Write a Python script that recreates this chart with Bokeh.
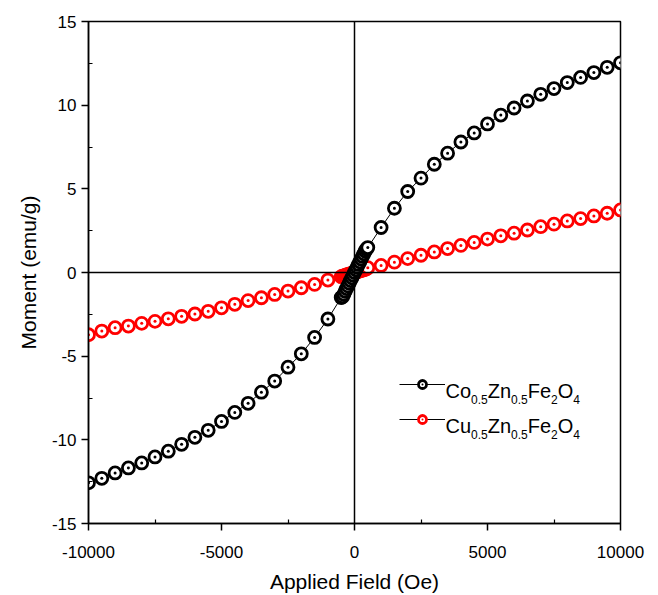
from bokeh.plotting import figure
from bokeh.models import (ColumnDataSource, FixedTicker, Span, Legend, LegendItem,
                          Label, Range1d)
from bokeh.core.properties import value
from bokeh.embed import file_html
from bokeh.resources import INLINE

# ---------------- data ----------------
field_outer = [-10000, -9500, -9000, -8500, -8000, -7500, -7000, -6500, -6000, -5500,
               -5000, -4500, -4000, -3500, -3000, -2500, -2000, -1500, -1000, -500,
               500, 1000, 1500, 2000, 2500, 3000, 3500, 4000, 4500, 5000,
               5500, 6000, 6500, 7000, 7500, 8000, 8500, 9000, 9500, 10000]
co_outer = [-12.57, -12.30, -11.98, -11.68, -11.38, -11.02, -10.68, -10.27, -9.85, -9.43,
            -8.90, -8.36, -7.82, -7.15, -6.49, -5.66, -4.86, -3.88, -2.78, -1.50,
            1.49, 2.69, 3.84, 4.84, 5.64, 6.47, 7.13, 7.80, 8.34, 8.88,
            9.41, 9.83, 10.25, 10.65, 10.99, 11.35, 11.66, 11.95, 12.26, 12.53]
cu_outer = [-3.72, -3.50, -3.30, -3.20, -3.04, -2.92, -2.77, -2.62, -2.48, -2.32,
            -2.11, -1.90, -1.68, -1.51, -1.31, -1.11, -0.91, -0.71, -0.45, -0.25,
            0.29, 0.42, 0.62, 0.83, 1.03, 1.23, 1.43, 1.62, 1.80, 2.00,
            2.19, 2.35, 2.54, 2.74, 2.89, 3.08, 3.22, 3.38, 3.54, 3.74]

field_inner = [-450, -400, -350, -300, -250, -200, -150, -100, -50, 0,
               50, 100, 150, 200, 250, 300, 350, 400, 450]
co_inner = [-1.45, -1.30, -1.12, -0.96, -0.80, -0.64, -0.48, -0.32, -0.16, 0.00,
            0.16, 0.32, 0.48, 0.64, 0.80, 0.96, 1.12, 1.28, 1.40]
cu_inner = [-0.22, -0.20, -0.17, -0.15, -0.12, -0.10, -0.07, -0.05, -0.02, 0.00,
            0.02, 0.05, 0.07, 0.10, 0.12, 0.15, 0.17, 0.20, 0.23]

x_major = [-10000, -5000, 0, 5000, 10000]
x_labels = ["-10000", "-5000", "0", "5000", "10000"]
x_minor = [-7500, -2500, 2500, 7500]
y_major = [-15, -10, -5, 0, 5, 10, 15]
y_labels = ["-15", "-10", "-5", "0", "5", "10", "15"]
y_minor = [-12.5, -7.5, -2.5, 2.5, 7.5, 12.5]

# legend formula pieces: (text, is_subscript)
co_label = [("Co", False), ("0.5", True), ("Zn", False), ("0.5", True),
            ("Fe", False), ("2", True), ("O", False), ("4", True)]
cu_label = [("Cu", False), ("0.5", True), ("Zn", False), ("0.5", True),
            ("Fe", False), ("2", True), ("O", False), ("4", True)]

# ---------------- build ----------------
def merged(xo, yo, xi, yi):
    pts = sorted(zip(list(xo) + list(xi), list(yo) + list(yi)))
    return [q[0] for q in pts], [q[1] for q in pts]

co_x, co_y = merged(field_outer, co_outer, field_inner, co_inner)
cu_x, cu_y = merged(field_outer, cu_outer, field_inner, cu_inner)
co_src = ColumnDataSource(dict(x=co_x, y=co_y))
cu_src = ColumnDataSource(dict(x=cu_x, y=cu_y))

FONT = "Liberation Sans"

p = figure(width=658, height=595, output_backend="svg", toolbar_location=None,
           x_range=Range1d(-10000, 10000), y_range=Range1d(-15, 15),
           min_border_left=88, min_border_right=38, min_border_top=21,
           min_border_bottom=72)
p.grid.visible = False
p.outline_line_color = "black"
p.outline_line_width = 1.5
p.background_fill_color = "white"
p.border_fill_color = "white"

p.xaxis.ticker = FixedTicker(ticks=x_major, minor_ticks=x_minor)
p.yaxis.ticker = FixedTicker(ticks=y_major, minor_ticks=y_minor)
p.xaxis.major_label_overrides = {v: s for v, s in zip(x_major, x_labels)}
p.yaxis.major_label_overrides = {v: s for v, s in zip(y_major, y_labels)}
for ax in (p.xaxis[0], p.yaxis[0]):
    ax.axis_line_color = "black"
    ax.axis_line_width = 1.5
    ax.major_tick_line_width = 1.5
    ax.minor_tick_line_width = 1.2
    ax.major_tick_out = 7
    ax.major_tick_in = 0
    ax.minor_tick_out = 0
    ax.minor_tick_in = 4
    ax.major_label_text_font = FONT
    ax.major_label_text_font_size = "17px"
    ax.major_label_text_color = "black"
    ax.axis_label_text_font = FONT
    ax.axis_label_text_font_size = "21px"
    ax.axis_label_text_font_style = "normal"
    ax.axis_label_text_color = "black"
p.xaxis.axis_label = "Applied Field (Oe)"
p.yaxis.axis_label = "Moment (emu/g)"
p.xaxis.major_label_standoff = 15
p.xaxis.axis_label_standoff = 9
p.yaxis.major_label_standoff = 5
p.yaxis.axis_label_standoff = 9

p.add_layout(Span(location=0, dimension="height", line_color="black", line_width=1.5))
p.add_layout(Span(location=0, dimension="width", line_color="black", line_width=1.5))

co_line = p.line("x", "y", source=co_src, line_color="black", line_width=1)
cu_line = p.line("x", "y", source=cu_src, line_color="black", line_width=0.6, line_alpha=0.5)
cu_pts = p.scatter("x", "y", source=cu_src, marker="circle_dot", size=12,
                   line_color="#ff0000", line_width=2.8, fill_color="white")
co_pts = p.scatter("x", "y", source=co_src, marker="circle_dot", size=12,
                   line_color="black", line_width=2.8, fill_color="white")

legend = Legend(items=[LegendItem(label=value(""), renderers=[co_line, co_pts]),
                       LegendItem(label=value(""), renderers=[co_line, cu_pts])],
                location=(311, 94), padding=0, margin=0, spacing=15,
                glyph_width=46, glyph_height=20, label_height=20, label_width=1,
                label_standoff=0, border_line_color=None, background_fill_alpha=0)
p.add_layout(legend)

# manual legend text with subscripts (screen px relative to frame)
W = {"C": 0.722, "o": 0.556, "u": 0.556, "Z": 0.611, "n": 0.556, "F": 0.611,
     "e": 0.556, "O": 0.778, "0": 0.556, ".": 0.278, "5": 0.556, "2": 0.556, "4": 0.556}
MAIN, SUB = 20, 12
for parts, base in ((co_label, 133), (cu_label, 98)):
    x = 357
    for txt, sub in parts:
        fs = SUB if sub else MAIN
        p.add_layout(Label(x=x, y=base - 9 if sub else base, x_units="screen",
                           y_units="screen", text=txt, text_font=FONT,
                           text_font_size=f"{fs}px", text_color="black",
                           text_baseline="alphabetic", text_align="left"))
        x += sum(W[c] for c in txt) * fs

open("out.html", "w").write(file_html(p, INLINE))
